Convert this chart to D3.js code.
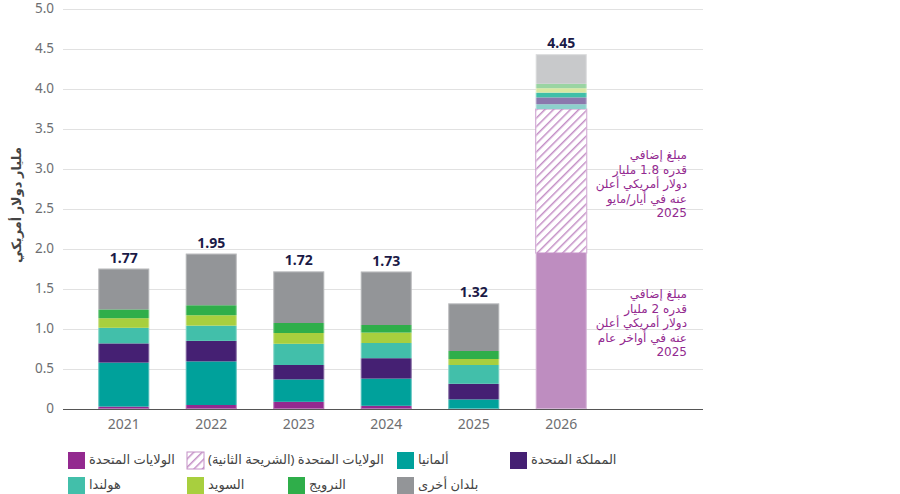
<!DOCTYPE html>
<html><head><meta charset="utf-8">
<script src="https://cdn.jsdelivr.net/npm/d3@7"></script>
<style>
body{margin:0;background:#fff;}
svg{display:block;font-family:"Noto Sans","DejaVu Sans",sans-serif;}
</style></head>
<body><svg id="c" width="900" height="494"></svg>
<script>
// ---- data ----
const years = ["2021","2022","2023","2024","2025","2026"];
const usA = [0.03,0.05,0.09,0.04,0,1.95];
const usB = [0,0,0,0,0,1.8];
const germany = [0.55,0.545,0.28,0.34,0.12,0.06];
const uk = [0.24,0.257,0.18,0.255,0.195,0.085];
const netherlands = [0.195,0.19,0.265,0.19,0.235,0.06];
const sweden = [0.12,0.13,0.135,0.13,0.075,0.055];
const norway = [0.11,0.125,0.125,0.095,0.10,0.055];
const others = [0.51,0.645,0.645,0.668,0.595,0.37];
const totals = ["1.77","1.95","1.72","1.73","1.32","4.45"];
const yTicks = [0,0.5,1,1.5,2,2.5,3,3.5,4,4.5,5];
const seriesNames = ["الولايات المتحدة","الولايات المتحدة (الشريحة الثانية)","ألمانيا","المملكة المتحدة","هولندا","السويد","النرويج","بلدان أخرى"];
const yTitle = "مليار دولار أمريكي";
const note1 = ["مبلغ إضافي","قدره 1.8 مليار","دولار أمريكي أعلن","عنه في أيار/مايو","2025"];
const note2 = ["مبلغ إضافي","قدره 2 مليار","دولار أمريكي أعلن","عنه في أواخر عام","2025"];

const keys = ["usA","usB","de","uk","nl","se","no","oth"];
const colors = {usA:"#93298f",usB:"#c48fc6",de:"#00a19b",uk:"#452073",nl:"#42bfaa",se:"#a8cf3e",no:"#2fae4a",oth:"#939598"};
const colors26 = {usA:"#be8dc0",usB:"#c48fc6",de:"#8dd0cc",uk:"#8b78ad",nl:"#40bfa8",se:"#d8e7a2",no:"#9ad4a2",oth:"#c8c9cb"};

const rows = years.map((y,i)=>({year:y,usA:usA[i],usB:usB[i],de:germany[i],uk:uk[i],nl:netherlands[i],se:sweden[i],no:norway[i],oth:others[i],total:totals[i]}));

const svg = d3.select("#c");
const plotL = 63, plotR = 703;
const y = d3.scaleLinear().domain([0,5]).range([409,9]);
const x = d3.scaleBand().domain(years).range([80,605]).paddingInner(0.418).paddingOuter(0.209);

// hatch pattern
const defs = svg.append("defs");
const pat = defs.append("pattern").attr("id","hatch").attr("patternUnits","userSpaceOnUse")
  .attr("width",6).attr("height",6).attr("patternTransform","rotate(45)");
pat.append("rect").attr("width",6).attr("height",6).attr("fill","#fff");
pat.append("line").attr("x1",0).attr("y1",0).attr("x2",0).attr("y2",6).attr("stroke","#c48fc6").attr("stroke-width",3);

// grid
svg.append("g").selectAll("line").data(yTicks.filter(d=>d>0)).join("line")
  .attr("x1",plotL).attr("x2",plotR).attr("y1",d=>y(d)+0.5).attr("y2",d=>y(d)+0.5)
  .attr("stroke","#e1e1e1").attr("stroke-width",1);

// y labels
svg.append("g").selectAll("text").data(yTicks).join("text")
  .attr("x",54).attr("y",d=>y(d)).attr("dy","0.33em").attr("text-anchor","end")
  .attr("fill","#6d6e71").attr("font-size",13.5)
  .text(d=>d===0?"0":d3.format(".1f")(d));

// stacks
const stack = d3.stack().keys(keys)(rows);
const gBars = svg.append("g");
stack.forEach(layer=>{
  gBars.append("g").selectAll("rect").data(layer).join("rect")
    .attr("x",d=>x(d.data.year)).attr("width",x.bandwidth())
    .attr("y",d=>y(d[1])).attr("height",d=>Math.max(0,y(d[0])-y(d[1])))
    .attr("fill",d=>{
      if(layer.key==="usB") return "url(#hatch)";
      return d.data.year==="2026"?colors26[layer.key]:colors[layer.key];
    })
    .attr("stroke",d=>layer.key==="usB"&&d[1]>d[0]?"#c48fc6":"none")
    .attr("stroke-width",1);
});
// subtle outline
gBars.append("g").selectAll("rect").data(rows).join("rect")
  .attr("x",d=>x(d.year)+0.5).attr("width",x.bandwidth()-1)
  .attr("y",d=>y(keys.reduce((s,k)=>s+d[k],0))+0.5)
  .attr("height",d=>y(0)-y(keys.reduce((s,k)=>s+d[k],0))-1)
  .attr("fill","none").attr("stroke","#ffffff").attr("stroke-opacity",0.35);

// totals
svg.append("g").selectAll("text").data(rows).join("text")
  .attr("x",d=>x(d.year)+x.bandwidth()/2)
  .attr("y",d=>y(keys.reduce((s,k)=>s+d[k],0))-6)
  .attr("text-anchor","middle").attr("font-weight","bold").attr("font-size",14)
  .attr("fill","#1b1a47").text(d=>d.total);

// x axis
svg.append("line").attr("x1",plotL).attr("x2",plotR).attr("y1",409.5).attr("y2",409.5)
  .attr("stroke","#555").attr("stroke-width",1.2);
svg.append("g").selectAll("text").data(years).join("text")
  .attr("x",d=>x(d)+x.bandwidth()/2).attr("y",424).attr("dy","0.35em")
  .attr("text-anchor","middle").attr("fill","#6d6e71").attr("font-size",14).text(d=>d);

// y title
svg.append("text").attr("transform","translate(16,205) rotate(-90)")
  .attr("direction","rtl").attr("text-anchor","middle").attr("dy","0.35em")
  .attr("font-size",13).attr("font-weight","600").attr("fill","#444").text(yTitle);

// annotations
const r26 = rows[5];
function note(lines, cy){
  const lh = 14.6;
  const g = svg.append("g");
  lines.forEach((t,i)=>{
    g.append("text").attr("x",687).attr("y",cy+(i-(lines.length-1)/2)*lh).attr("dy","0.35em")
      .attr("direction","rtl").attr("text-anchor","start")
      .attr("font-family","'DejaVu Sans', sans-serif")
      .attr("font-size",12).attr("fill","#93298f").text(t);
  });
}
note(note1, (y(r26.usA)+y(r26.usA+r26.usB))/2+3);
note(note2, (y(0)+y(r26.usA))/2-8);

// legend
const legendPos = [[68,460],[187,460],[397,460],[510,460],[68,485],[187,485],[288,485],[397,485]];
const lg = svg.append("g");
keys.forEach((k,i)=>{
  const [lx,ly] = legendPos[i];
  lg.append("rect").attr("x",lx).attr("y",ly-8).attr("width",17).attr("height",17)
    .attr("fill",k==="usB"?"url(#hatch)":colors[k])
    .attr("stroke",k==="usB"?"#c48fc6":"none");
  lg.append("text").attr("x",lx+21).attr("y",ly).attr("dy","0.3em")
    .attr("direction","rtl").attr("text-anchor","end")
    .attr("font-size",13).attr("fill","#444").text(seriesNames[i]);
});
</script></body></html>
